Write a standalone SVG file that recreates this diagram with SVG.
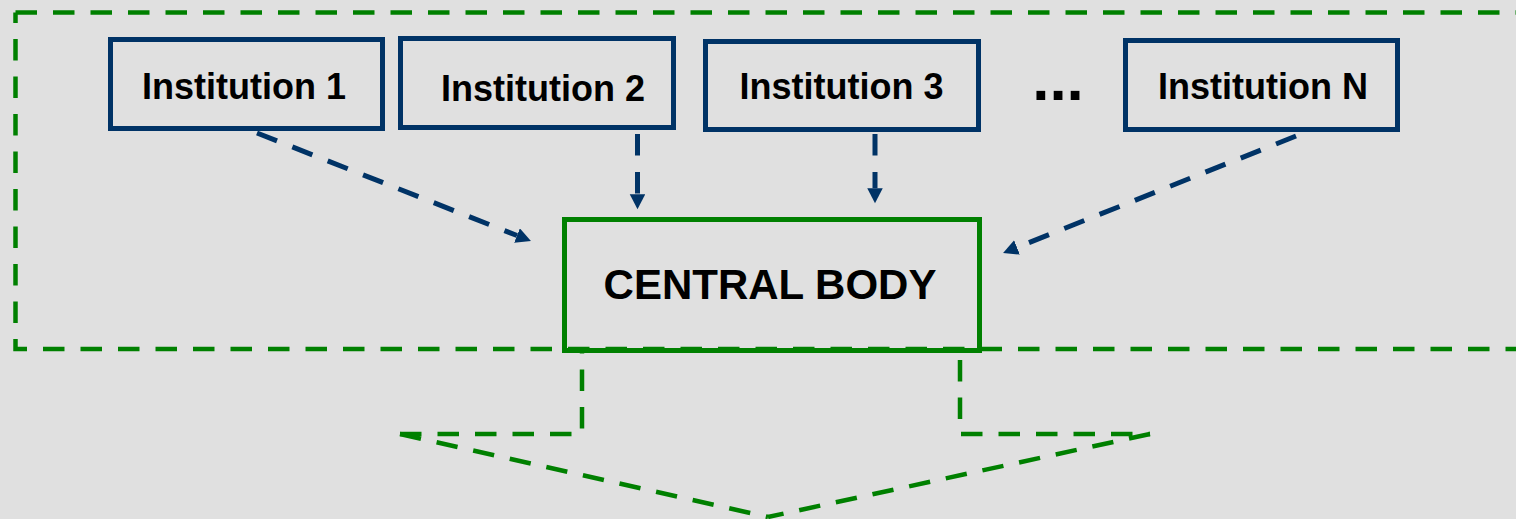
<svg xmlns="http://www.w3.org/2000/svg" width="1516" height="519" viewBox="0 0 1516 519">
<defs>
<marker id="ah" markerUnits="userSpaceOnUse" markerWidth="16" markerHeight="16" refX="0" refY="7.75" orient="auto">
<path d="M0,0 L15,7.75 L0,15.5 Z" fill="#003366"/>
</marker>
</defs>
<style>
.inst{fill:none;stroke:#003366;stroke-width:5}
.lbl{font-family:"Liberation Sans",Arial,sans-serif;font-weight:bold;fill:#000;text-anchor:middle}
.blue{fill:none;stroke:#003366;stroke-width:5;stroke-dasharray:21.5 16.5}
.green{fill:none;stroke:#008000;stroke-width:4.5;stroke-dasharray:21.5 16}
</style>
<rect width="1516" height="519" fill="#e0e0e0"/>
<g id="boundary">
<path d="M15.5,12.5 H1540" class="green"/>
<path d="M15.5,12.5 V349 H1540" class="green" stroke-dashoffset="11"/>
</g>
<g id="inst1">
<rect x="110.5" y="39.5" width="272" height="89" class="inst"/>
<text x="244" y="99" font-size="36" class="lbl">Institution 1</text>
</g>
<g id="inst2">
<rect x="400.5" y="38.5" width="273" height="89" class="inst"/>
<text x="543" y="101" font-size="36" class="lbl">Institution 2</text>
</g>
<g id="inst3">
<rect x="705.5" y="41.5" width="273" height="88" class="inst"/>
<text x="841.5" y="99" font-size="36" class="lbl">Institution 3</text>
</g>
<g id="ellipsis">
<text x="1058" y="100" font-size="62" class="lbl">...</text>
</g>
<g id="instN">
<rect x="1125.5" y="40.5" width="272" height="89" class="inst"/>
<text x="1263" y="99" font-size="36" class="lbl">Institution N</text>
</g>
<g id="central">
<rect x="564.5" y="219.5" width="415" height="131" fill="none" stroke="#008000" stroke-width="5"/>
<text x="770" y="299" font-size="42" class="lbl">CENTRAL BODY</text>
</g>
<g id="connectors">
<path d="M257,133 L517,235.5" class="blue" marker-end="url(#ah)"/>
<path d="M637.5,134 L637.5,194.3" class="blue" marker-end="url(#ah)"/>
<path d="M875,134 L875,188.3" class="blue" marker-end="url(#ah)"/>
<path d="M1296,136 L1017,247.4" class="blue" marker-end="url(#ah)"/>
<path d="M582,353 L582,434 L400,434" class="green" stroke-dashoffset="21"/>
<path d="M960,353 L960,434 L1150,434" class="green" stroke-dashoffset="30.5"/>
<path d="M400,434 L768,517" class="green" stroke-width="5.5"/>
<path d="M1150,434 L768,517" class="green" stroke-width="5.5"/>
</g>
</svg>
